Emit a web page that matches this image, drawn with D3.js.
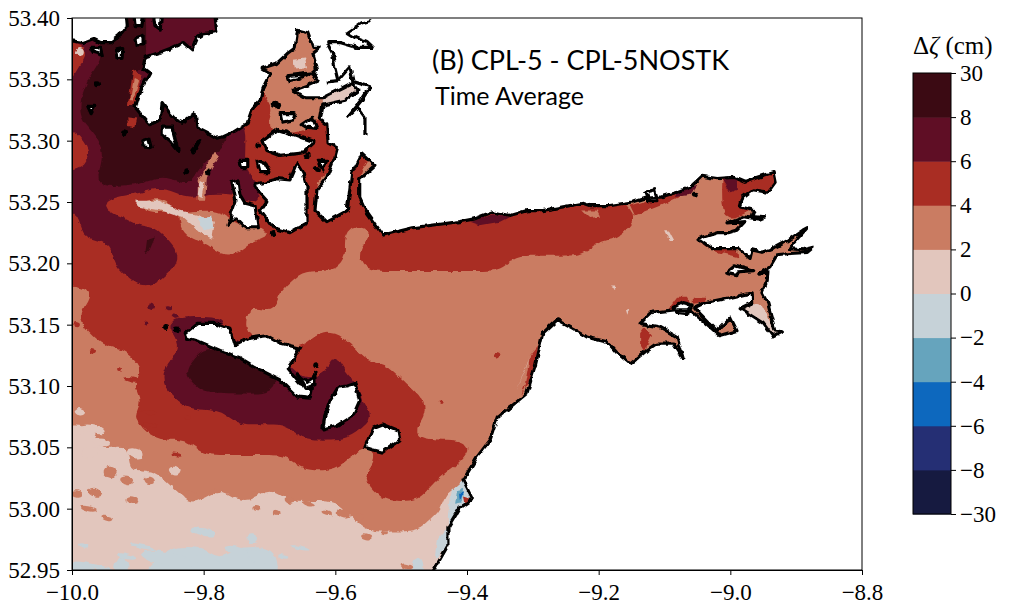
<!DOCTYPE html>
<html>
<head>
<meta charset="utf-8">
<script src="https://cdn.jsdelivr.net/npm/d3@7"></script>
<style>
  html, body { margin: 0; background: #fff; }
  text { font-family: "Liberation Serif", serif; fill: #000; }
  .axis path, .axis line { stroke: #000; stroke-width: 1px; }
  .axis text { font-size: 23px; font-family: "Liberation Serif", serif; }
</style>
</head>
<body>
<div id="container"></div>
<script>
/* DATA */
const lonTicks = [-10, -9.8, -9.6, -9.4, -9.2, -9.0, -8.8];
const latTicks = [52.95, 53.0, 53.05, 53.1, 53.15, 53.2, 53.25, 53.3, 53.35, 53.4];
const levelLabels = ["\u221230", "\u22128", "\u22126", "\u22124", "\u22122", "0", "2", "4", "6", "8", "30"];
const bandColors = ["#161a40", "#252f74", "#0d68be", "#66a4bd", "#c6d2d8", "#e2c6bd", "#ca7c62", "#a92d23", "#5f0e25", "#3b0a13"];
// lower edge of every band drawn from the grid
const bandEdges = [0, 2, 4, 6, 8];

// time averaged difference (cm), one row per 0.0125 deg of latitude from 53.40 down,
// one column per 0.025 deg of longitude from -10
const zetaRows = [
  [9,9,9,9,9,7,7, 7,7,7,7,5,3,3, 3,3,3,3,3,3,3, 3,3,3,3,3,3,3, 3,3,3,3,3,3,3, 3,3,3,3,3,3,3, 3,3,3,3,3,3,3],
  [9,9,9,9,9,7,7, 7,7,7,7,5,3,3, 3,3,3,3,3,3,3, 3,3,3,3,3,3,3, 3,3,3,3,3,3,3, 3,3,3,3,3,3,3, 3,3,3,3,3,3,3],
  [3,5,9,9,9,7,7, 7,7,7,7,5,3,3, 3,3,3,3,3,3,3, 3,3,3,3,3,3,3, 3,3,3,3,3,3,3, 3,3,3,3,3,3,3, 3,3,3,3,3,3,3],
  [5,7,9,9,9,7,7, 7,7,7,7,5,3,3, 3,3,3,3,3,3,3, 3,3,3,3,3,3,3, 3,3,3,3,3,3,3, 3,3,3,3,3,3,3, 3,3,3,3,3,3,3],
  [5,9,9,9,7,7,7, 7,7,7,5,5,3,3, 3,3,3,3,3,3,3, 3,3,3,3,3,3,3, 3,3,3,3,3,3,3, 3,3,3,3,3,3,3, 3,3,3,3,3,3,3],
  [7,9,9,9,7,9,9, 9,9,9,5,5,3,3, 3,3,3,3,3,3,3, 3,3,3,3,3,3,3, 3,3,3,3,3,3,3, 3,3,3,3,3,3,3, 3,3,3,3,3,3,3],
  [7,9,9,9,7,9,9, 9,9,9,5,5,5,3, 3,3,3,3,3,3,3, 3,3,3,3,3,3,3, 3,3,3,3,3,3,3, 3,3,3,3,3,3,3, 3,3,3,3,3,3,3],
  [7,9,9,9,9,9,9, 9,9,9,7,5,3,3, 3,5,5,3,3,3,3, 3,3,3,3,3,3,3, 3,3,3,3,3,3,3, 3,3,3,3,3,3,3, 3,3,3,3,3,3,3],
  [3,7,9,9,9,9,9, 9,9,9,7,5,5,5, 5,5,5,3,3,3,3, 3,3,3,3,3,3,3, 3,3,3,3,3,3,3, 3,3,3,3,3,3,3, 3,3,3,3,3,3,3],
  [3,5,9,9,9,9,9, 9,9,7,7,5,5,5, 5,5,5,5,5,3,3, 3,3,3,3,3,3,3, 3,3,3,3,3,3,3, 3,3,3,3,3,3,3, 3,3,3,3,3,3,3],
  [7,7,9,9,9,9,9, 9,7,7,7,5,5,5, 5,5,3,5,3,3,3, 3,3,3,3,3,3,3, 3,3,3,3,3,3,3, 3,3,3,3,3,5,5, 5,5,3,3,3,3,3],
  [7,7,9,9,9,7,7, 9,7,7,7,7,5,5, 5,3,3,5,3,3,3, 3,3,3,3,3,3,3, 3,3,3,3,3,3,3, 3,3,3,3,3,5,5, 5,5,3,3,3,3,3],
  [7,7,5,3,3,1,3, 5,5,5,5,7,5,5, 5,5,3,5,5,5,5, 5,5,5,5,5,5,5, 5,5,5,5,5,5,3, 3,3,3,3,3,5,5, 5,3,3,3,3,3,3],
  [5,7,7,7,5,5,5, 3,3,3,5,5,5,5, 5,5,5,5,5,5,5, 5,5,5,5,5,5,5, 5,5,5,5,5,5,5, 3,3,3,3,3,5,3, 3,3,3,3,3,3,3],
  [5,7,7,7,7,7,5, 3,3,3,3,3,3,5, 5,5,5,3,3,5,5, 5,5,5,5,5,5,5, 5,5,5,5,5,5,3, 3,3,3,3,3,3,3, 3,3,3,3,3,3,3],
  [5,5,5,7,7,7,7, 5,5,3,3,5,5,5, 5,5,5,3,5,5,5, 5,5,5,5,5,5,5, 5,5,5,5,3,3,3, 3,3,3,3,3,3,3, 3,3,3,3,3,3,3],
  [5,5,5,7,7,7,7, 5,5,5,5,5,5,5, 5,5,5,3,5,5,5, 5,5,5,5,5,5,3, 3,3,3,3,3,3,3, 3,3,3,3,3,3,3, 3,3,3,3,3,3,3],
  [5,5,5,5,7,7,5, 5,5,5,5,5,5,5, 3,3,3,3,3,3,3, 3,3,3,3,3,3,3, 3,3,3,3,3,3,3, 3,3,3,3,3,3,3, 3,3,3,3,3,3,3],
  [3,3,5,5,5,5,5, 5,5,5,5,5,5,3, 3,3,3,3,3,3,3, 3,3,3,3,3,3,3, 3,3,3,3,3,3,3, 3,3,3,3,3,3,3, 3,3,3,3,3,3,3],
  [3,5,5,5,5,5,5, 5,5,5,5,3,5,3, 3,3,3,3,3,3,3, 3,3,3,3,3,3,3, 3,3,3,3,3,3,3, 3,3,3,3,3,3,3, 3,3,3,3,3,3,3],
  [3,5,5,5,5,5,7, 7,7,7,5,3,3,3, 3,3,3,3,3,3,3, 3,3,3,3,3,3,3, 3,3,3,3,3,3,3, 3,3,3,3,3,3,3, 3,3,3,3,3,3,3],
  [3,3,5,5,5,5,5, 7,7,7,5,3,3,3, 3,5,5,3,3,3,3, 3,3,3,3,3,3,3, 3,3,3,3,3,3,3, 3,3,3,3,3,3,3, 3,3,3,3,3,3,3],
  [3,3,3,3,5,5,5, 7,9,9,9,9,5,5, 5,5,7,5,3,3,3, 3,3,3,3,3,3,3, 3,3,3,3,3,3,3, 3,3,3,3,3,3,3, 3,3,3,3,3,3,3],
  [3,3,3,3,3,5,7, 9,9,9,9,9,9,7, 5,5,7,5,5,5,3, 3,3,3,3,3,3,3, 3,3,3,3,3,3,3, 3,3,3,3,3,3,3, 3,3,3,3,3,3,3],
  [3,3,3,3,5,5,7, 7,9,9,9,9,9,7, 7,7,7,7,5,5,5, 3,3,3,3,3,3,3, 3,3,3,3,3,3,3, 3,3,3,3,3,3,3, 3,3,3,3,3,3,3],
  [3,3,3,3,3,5,5, 7,7,7,7,7,7,7, 7,7,7,7,5,5,5, 5,3,3,3,3,3,3, 3,3,3,3,3,3,3, 3,3,3,3,3,3,3, 3,3,3,3,3,3,3],
  [3,3,3,3,5,5,5, 5,5,5,7,7,7,7, 7,7,7,7,7,5,5, 5,3,3,3,3,3,3, 3,3,3,3,3,3,3, 3,3,3,3,3,3,3, 3,3,3,3,3,3,3],
  [1,1,3,3,3,5,5, 5,5,5,5,5,5,5, 7,7,7,7,5,5,5, 3,3,3,3,3,3,3, 3,3,3,3,3,3,3, 3,3,3,3,3,3,3, 3,3,3,3,3,3,3],
  [1,1,3,1,3,3,3, 3,5,5,5,5,5,5, 5,5,5,5,3,5,5, 5,5,5,5,3,3,3, 3,3,3,3,3,3,3, 3,3,3,3,3,3,3, 3,3,3,3,3,3,3],
  [1,1,1,1,3,3,3, 3,3,3,3,3,3,3, 5,5,5,3,3,5,5, 5,5,5,3,3,3,3, 3,3,3,3,3,3,3, 3,3,3,3,3,3,3, 3,3,3,3,3,3,3],
  [1,1,1,3,1,1,3, 3,3,3,3,3,3,3, 3,3,3,3,5,5,5, 5,5,3,3,3,3,3, 3,3,3,3,3,3,3, 3,3,3,3,3,3,3, 3,3,3,3,3,3,3],
  [1,3,1,1,1,1,1, 3,3,1,3,3,1,3, 3,3,3,3,3,5,5, 5,3,1,1,1,1,1, 1,1,1,1,1,1,1, 1,1,1,1,1,1,1, 1,1,1,1,1,1,1],
  [1,1,3,1,1,1,1, 1,1,1,1,1,1,1, 1,1,1,3,3,3,3, 3,3,1,1,1,1,1, 1,1,1,1,1,1,1, 1,1,1,1,1,1,1, 1,1,1,1,1,1,1],
  [1,1,1,1,1,1,1, 1,1,1,1,1,1,1, 1,1,1,1,3,3,3, 3,1,1,1,1,1,1, 1,1,1,1,1,1,1, 1,1,1,1,1,1,1, 1,1,1,1,1,1,1],
  [1,1,1,1,1,1,1, 1,1,1,1,1,1,1, 1,1,1,1,1,1,1, 1,1,1,1,1,1,1, 1,1,1,1,1,1,1, 1,1,1,1,1,1,1, 1,1,1,1,1,1,1],
  [1,1,1,-1,1,1,-1, -1,-1,1,-1,-1,-1,1, 1,1,1,1,1,1,1, -1,1,1,1,1,1,1, 1,1,1,1,1,1,1, 1,1,1,1,1,1,1, 1,1,1,1,1,1,1],
  [-1,-1,1,-1,1,-1,-1, -1,-1,-1,-1,-1,-1,1, 1,1,1,1,1,1,1, -1,1,1,1,1,1,1, 1,1,1,1,1,1,1, 1,1,1,1,1,1,1, 1,1,1,1,1,1,1]
];

// features too small for the grid: [value, [lon, lat], ...]
const smallPatches = [
  [-1, [-9.406,53.023],[-9.392,53.009],[-9.411,53.001],[-9.429,52.985],[-9.429,52.994],[-9.423,53.015]],
  [-3, [-9.415,53.015],[-9.406,53.016],[-9.408,53.005],[-9.418,53.004]],
  [-5, [-9.412,53.013],[-9.406,53.013],[-9.411,53.007]],
  [5, [-9.406,53.010],[-9.395,53.008],[-9.404,53.004]],
  [-1, [-9.429,52.985],[-9.429,52.970],[-9.449,52.959],[-9.446,52.974]],
  [5, [-9.292,53.133],[-9.300,53.109],[-9.318,53.092],[-9.312,53.101],[-9.304,53.125]],
  [1, [-9.307,53.123],[-9.316,53.109],[-9.324,53.096],[-9.318,53.105],[-9.309,53.119]],
  [5, [-9.049,53.219],[-9.026,53.212],[-8.990,53.211],[-8.988,53.205],[-9.019,53.209],[-9.038,53.214]],
  [5, [-9.095,53.162],[-9.081,53.172],[-9.066,53.172],[-9.061,53.167],[-9.087,53.164]],
  [5, [-9.057,53.172],[-9.038,53.172],[-9.038,53.168],[-9.057,53.167]],
  [5, [-9.137,53.143],[-9.130,53.148],[-9.119,53.141],[-9.130,53.129],[-9.137,53.135]],
  [1, [-8.985,53.163],[-8.966,53.168],[-8.952,53.166],[-8.932,53.145],[-8.921,53.144],[-8.935,53.140],[-8.950,53.151]],
  [5, [-9.152,53.247],[-9.061,53.262],[-9.054,53.260],[-9.107,53.247],[-9.145,53.239]],
  [7, [-9.081,53.258],[-9.061,53.262],[-9.050,53.264],[-9.061,53.256],[-9.084,53.254]],
  [7, [-9.395,53.234],[-9.361,53.240],[-9.335,53.238],[-9.350,53.234],[-9.380,53.231]],
  [7, [-9.011,53.268],[-8.993,53.270],[-8.990,53.260],[-9.000,53.258]],
  [1, [-9.099,53.227],[-9.095,53.227],[-9.087,53.219],[-9.092,53.219]],
  [1, [-9.183,53.182],[-9.175,53.182],[-9.175,53.179]],
  [1, [-9.160,53.162],[-9.155,53.163],[-9.158,53.158]],
  [3, [-9.225,53.243],[-9.203,53.243],[-9.198,53.238],[-9.213,53.237]],
  [5, [-9.907,53.358],[-9.894,53.353],[-9.901,53.329],[-9.915,53.329]],
  [3, [-9.906,53.351],[-9.898,53.349],[-9.907,53.333],[-9.912,53.333]],
  [5, [-9.916,53.319],[-9.901,53.318],[-9.904,53.311],[-9.915,53.312]],
  [3, [-9.783,53.291],[-9.777,53.288],[-9.795,53.270],[-9.798,53.251],[-9.809,53.251],[-9.809,53.268]],
  [1, [-9.806,53.268],[-9.799,53.266],[-9.803,53.254],[-9.809,53.256]],
  [1, [-9.906,53.251],[-9.869,53.251],[-9.836,53.243],[-9.806,53.239],[-9.783,53.234],[-9.787,53.220],[-9.806,53.225],[-9.831,53.237],[-9.866,53.243],[-9.897,53.246]],
  [-1, [-9.809,53.237],[-9.787,53.238],[-9.784,53.229],[-9.799,53.227]],
  [9, [-9.886,53.219],[-9.874,53.221],[-9.882,53.211],[-9.889,53.207]],
  [1, [-9.619,53.335],[-9.597,53.343],[-9.575,53.349],[-9.563,53.339],[-9.585,53.330],[-9.619,53.326]],
  [1, [-9.664,53.366],[-9.646,53.367],[-9.643,53.359],[-9.661,53.358]]
];

// mottled spots on the shelf: [value, lon, lat, half width in lon, half height in lat]
const spots = [
  [3,-9.942,53.030,.010,.005],[3,-9.917,53.023,.010,.003],[3,-9.882,53.023,.008,.003],[3,-9.909,53.007,.010,.003],
  [3,-9.965,53.013,.011,.004],[3,-9.975,53.000,.013,.002],[3,-9.947,52.992,.010,.002],[3,-9.993,53.012,.008,.003],
  [3,-9.818,53.010,.013,.004],[3,-9.783,53.014,.010,.002],[3,-9.722,53.012,.006,.002],[3,-9.669,53.007,.008,.003],
  [3,-9.641,53.004,.010,.002],[3,-9.689,52.997,.006,.002],[3,-9.720,53.000,.006,.002],[3,-9.613,52.997,.008,.002],
  [3,-9.553,52.977,.008,.002],[3,-9.525,52.980,.005,.0015],[3,-9.492,52.953,.009,.002],[3,-9.588,52.996,.010,.004],
  [3,-9.563,52.993,.005,.003],
  [1,-9.988,53.079,.008,.003],[1,-9.968,53.065,.018,.003],[1,-9.955,53.054,.013,.003],[1,-9.990,53.063,.008,.004],
  [1,-9.973,53.046,.013,.005],[1,-9.904,53.045,.013,.004],[1,-9.844,53.031,.009,.004],[1,-9.927,53.048,.005,.0015],
  [5,-9.909,53.105,.013,.002],[5,-9.884,53.079,.013,.0016],[5,-9.882,53.068,.011,.0016],[5,-9.823,53.074,.005,.002],
  [5,-9.841,53.044,.008,.0014],[5,-9.968,53.128,.006,.002],[5,-9.927,53.113,.003,.0016],[5,-9.354,53.125,.0046,.0025],
  [5,-9.440,53.087,.003,.0016],[5,-9.993,53.150,.005,.002],
  [7,-9.879,53.165,.005,.003],[7,-9.854,53.163,.005,.002],[7,-9.887,53.151,.003,.0016],[7,-9.844,53.157,.006,.002],
  [-1,-9.801,52.981,.020,.003],[-1,-9.727,52.976,.008,.004],[-1,-9.856,52.959,.040,.0055],[-1,-9.796,52.958,.020,.004],
  [-1,-9.750,52.966,.020,.003],[-1,-9.715,52.961,.020,.0055],[-1,-9.892,52.969,.020,.0016],[-1,-9.983,52.970,.008,.0016],
  [-1,-9.917,52.961,.015,.002],[-1,-9.968,52.953,.030,.002],[-1,-9.679,52.961,.008,.0016],[-1,-9.654,52.968,.015,.0014],
  [1,-9.988,53.372,.006,.0035]
];

// the shore from the top edge, east along the bay and back to the bottom edge
const mainCoast = [
  [-9.787,53.420],[-9.780,53.389],[-9.801,53.387],[-9.810,53.384],[-9.818,53.374],[-9.831,53.380],[-9.847,53.376],[-9.866,53.372],
  [-9.889,53.368],[-9.892,53.359],[-9.882,53.355],[-9.889,53.348],[-9.897,53.339],[-9.904,53.327],[-9.892,53.319],[-9.882,53.313],
  [-9.866,53.317],[-9.863,53.331],[-9.851,53.322],[-9.844,53.318],[-9.831,53.315],[-9.821,53.319],[-9.813,53.322],[-9.810,53.311],
  [-9.795,53.307],[-9.780,53.302],[-9.771,53.303],[-9.755,53.307],[-9.734,53.314],[-9.727,53.325],[-9.714,53.333],[-9.710,53.343],
  [-9.699,53.355],[-9.711,53.359],[-9.689,53.363],[-9.673,53.371],[-9.661,53.376],[-9.657,53.390],[-9.642,53.388],[-9.634,53.376],
  [-9.623,53.376],[-9.634,53.371],[-9.628,53.360],[-9.635,53.356],[-9.626,53.349],[-9.643,53.345],[-9.664,53.341],[-9.646,53.335],
  [-9.619,53.335],[-9.597,53.341],[-9.575,53.347],[-9.566,53.341],[-9.585,53.333],[-9.619,53.329],[-9.623,53.317],[-9.613,53.313],
  [-9.611,53.298],[-9.597,53.294],[-9.601,53.286],[-9.613,53.270],[-9.628,53.260],[-9.631,53.243],[-9.613,53.234],[-9.582,53.243],
  [-9.575,53.274],[-9.560,53.290],[-9.540,53.280],[-9.563,53.269],[-9.563,53.254],[-9.552,53.241],[-9.528,53.223],[-9.482,53.229],
  [-9.411,53.234],[-9.391,53.236],[-9.361,53.242],[-9.335,53.239],[-9.309,53.243],[-9.285,53.243],[-9.254,53.246],[-9.224,53.249],
  [-9.213,53.247],[-9.183,53.247],[-9.148,53.250],[-9.130,53.253],[-9.107,53.254],[-9.081,53.258],[-9.061,53.262],[-9.043,53.271],
  [-9.020,53.269],[-8.996,53.270],[-8.978,53.266],[-8.959,53.270],[-8.935,53.274],[-8.932,53.266],[-8.943,53.258],[-8.966,53.260],
  [-8.981,53.254],[-8.985,53.246],[-8.963,53.243],[-8.966,53.239],[-8.947,53.238],[-8.955,53.236],[-8.981,53.238],[-9.005,53.233],
  [-8.978,53.234],[-8.990,53.227],[-9.003,53.225],[-9.020,53.225],[-9.049,53.220],[-9.028,53.212],[-8.988,53.212],[-8.970,53.204],
  [-8.967,53.211],[-8.952,53.209],[-8.932,53.213],[-8.912,53.219],[-8.890,53.227],[-8.883,53.229],[-8.905,53.216],[-8.909,53.212],
  [-8.890,53.211],[-8.874,53.213],[-8.883,53.209],[-8.909,53.208],[-8.929,53.207],[-8.940,53.197],[-8.955,53.192],[-8.943,53.193],
  [-8.944,53.186],[-8.952,53.176],[-8.943,53.167],[-8.932,53.145],[-8.921,53.144],[-8.935,53.140],[-8.950,53.151],[-8.985,53.163],
  [-8.966,53.168],[-8.967,53.176],[-9.000,53.172],[-9.038,53.168],[-9.054,53.164],[-9.046,53.159],[-9.020,53.145],[-9.000,53.156],
  [-8.990,53.145],[-9.016,53.141],[-9.035,53.150],[-9.061,53.162],[-9.087,53.162],[-9.119,53.160],[-9.137,53.151],[-9.107,53.148],
  [-9.081,53.140],[-9.072,53.123],[-9.087,53.135],[-9.111,53.135],[-9.127,53.129],[-9.152,53.118],[-9.172,53.127],[-9.187,53.136],
  [-9.218,53.140],[-9.239,53.147],[-9.263,53.154],[-9.285,53.143],[-9.297,53.115],[-9.309,53.094],[-9.354,53.074],[-9.365,53.056],
  [-9.385,53.042],[-9.406,53.023],[-9.392,53.008],[-9.411,53.001],[-9.429,52.985],[-9.429,52.970],[-9.461,52.940]
];
const mainCorners = [[-8.75,52.94],[-8.75,53.42]];

const cornerCoast = [[-9.919,53.410],[-9.916,53.393],[-9.923,53.388],[-9.942,53.380],[-9.957,53.380],[-9.968,53.383],[-9.983,53.380],[-10.01,53.382]];
const cornerCorners = [[-10.01,53.41]];

const islands = [
  [[-9.828,53.143],[-9.810,53.151],[-9.780,53.151],[-9.760,53.147],[-9.752,53.133],[-9.730,53.139],[-9.704,53.141],[-9.684,53.135],[-9.654,53.131],[-9.664,53.121],[-9.673,53.114],[-9.654,53.102],[-9.635,53.098],[-9.638,53.090],[-9.657,53.091],[-9.684,53.105],[-9.714,53.113],[-9.745,53.123],[-9.775,53.129],[-9.806,53.136],[-9.825,53.139]],
  [[-9.616,53.076],[-9.608,53.088],[-9.596,53.099],[-9.582,53.100],[-9.570,53.102],[-9.563,53.088],[-9.573,53.076],[-9.597,53.068],[-9.619,53.065]],
  [[-9.555,53.050],[-9.543,53.066],[-9.528,53.069],[-9.505,53.064],[-9.502,53.056],[-9.528,53.046],[-9.543,53.048]],
  [[-9.658,53.109],[-9.643,53.103],[-9.634,53.106],[-9.631,53.111],[-9.631,53.101],[-9.646,53.098]],
  [[-9.710,53.300],[-9.687,53.309],[-9.664,53.305],[-9.631,53.299],[-9.649,53.290],[-9.684,53.288],[-9.704,53.292]],
  [[-9.722,53.264],[-9.689,53.269],[-9.669,53.268],[-9.658,53.282],[-9.649,53.274],[-9.643,53.262],[-9.643,53.233],[-9.669,53.225],[-9.695,53.229],[-9.714,53.243],[-9.704,53.251],[-9.719,53.260]],
  [[-9.684,53.322],[-9.661,53.322],[-9.664,53.317],[-9.681,53.315]],
  [[-9.652,53.313],[-9.635,53.319],[-9.628,53.310],[-9.646,53.311]],
  [[-9.672,53.353],[-9.638,53.355],[-9.654,53.351],[-9.669,53.349]],
  [[-9.745,53.284],[-9.733,53.284],[-9.733,53.278],[-9.742,53.278]],
  [[-9.719,53.284],[-9.707,53.282],[-9.699,53.274],[-9.714,53.274]],
  [[-9.626,53.284],[-9.613,53.284],[-9.619,53.276]],
  [[-9.976,53.328],[-9.965,53.328],[-9.971,53.322]],
  [[-9.894,53.300],[-9.882,53.302],[-9.878,53.294],[-9.892,53.295]],
  [[-9.863,53.311],[-9.848,53.311],[-9.839,53.292],[-9.851,53.300],[-9.863,53.305]],
  [[-9.818,53.292],[-9.806,53.300],[-9.810,53.296],[-9.816,53.290]],
  [[-9.903,53.384],[-9.892,53.386],[-9.892,53.378],[-9.901,53.378]],
  [[-9.932,53.374],[-9.923,53.375],[-9.924,53.367],[-9.930,53.367]],
  [[-9.971,53.376],[-9.957,53.376],[-9.954,53.370],[-9.968,53.372]],
  [[-9.907,53.410],[-9.889,53.410],[-9.894,53.393],[-9.904,53.393]],
  [[-9.878,53.410],[-9.863,53.410],[-9.866,53.390],[-9.874,53.393]],
  [[-9.757,53.266],[-9.748,53.268],[-9.745,53.256],[-9.737,53.249],[-9.722,53.247],[-9.717,53.229],[-9.737,53.229],[-9.752,53.237],[-9.763,53.231],[-9.757,53.242],[-9.751,53.251]],
  [[-9.130,53.258],[-9.115,53.260],[-9.110,53.251],[-9.125,53.251]],
  [[-9.007,53.192],[-8.993,53.198],[-8.966,53.194],[-8.990,53.193],[-8.990,53.190]],
  [[-9.087,53.164],[-9.073,53.168],[-9.058,53.166],[-9.066,53.159],[-9.081,53.160]]
];

const islets = [
  [-9.962,53.346],[-9.921,53.306],[-9.825,53.275],[-9.793,53.274],[-9.695,53.224],[-9.692,53.330],[-9.687,53.328],
  [-9.717,53.296],[-9.642,53.288],[-9.628,53.277],[-9.629,53.117],[-9.857,53.148],[-9.841,53.146],[-9.054,53.256]
];

// inlets that run through the white land
const inletLines = [
  [[-9.547,53.398],[-9.560,53.396],[-9.582,53.388],[-9.570,53.384],[-9.552,53.380],[-9.544,53.376],[-9.567,53.376],[-9.593,53.380],[-9.613,53.380],[-9.604,53.371],[-9.601,53.360],[-9.596,53.349],[-9.613,53.348]],
  [[-9.596,53.349],[-9.578,53.360],[-9.573,53.348],[-9.547,53.344],[-9.560,53.333],[-9.581,53.319],[-9.566,53.327],[-9.555,53.319],[-9.555,53.305]]
];

/* CONSTANTS */
const width = 1011,
  height = 611,
  margin = { top: 18, bottom: 41, left: 72, right: 149 },
  colorbar = { left: 913, right: 951, top: 73, bottom: 514 };

const lon0 = -10, lonStep = 0.025, lat0 = 53.4, latStep = 0.0125;
const fine = 4, pad = 1; // the grid is resampled before contouring so the bands come out rounded

const xScale = d3.scaleLinear().domain([-10, -8.8]).range([margin.left, width - margin.right]);
const yScale = d3.scaleLinear().domain([52.95, 53.4]).range([height - margin.bottom, margin.top]);
const colorScale = d3.scaleThreshold().domain([-8, -6, -4, -2, 0, 2, 4, 6, 8]).range(bandColors);
const line = d3.line().x(d => xScale(d[0])).y(d => yScale(d[1]));

const svg = d3.select("#container").append("svg")
  .attr("width", width)
  .attr("height", height)
  .style("display", "block");

const plotWidth = xScale.range()[1] - margin.left;
const plotHeight = yScale.range()[0] - margin.top;

svg.append("clipPath").attr("id", "plot-clip").append("rect")
  .attr("x", margin.left).attr("y", margin.top)
  .attr("width", plotWidth)
  .attr("height", plotHeight);

// rough edge on shores and bands, as the model mesh gives in the original
const rough = svg.append("filter")
  .attr("id", "rough")
  .attr("filterUnits", "userSpaceOnUse")
  .attr("x", 0).attr("y", 0).attr("width", width).attr("height", height)
  .attr("color-interpolation-filters", "sRGB");
rough.append("feTurbulence")
  .attr("type", "fractalNoise").attr("baseFrequency", 0.13).attr("numOctaves", 2).attr("seed", 4).attr("result", "noise");
rough.append("feDisplacementMap")
  .attr("in", "SourceGraphic").attr("in2", "noise").attr("scale", 5)
  .attr("xChannelSelector", "R").attr("yChannelSelector", "G");

const plot = svg.append("g").attr("clip-path", "url(#plot-clip)")
  .append("g").attr("filter", "url(#rough)");

/* FILLED CONTOURS */
const nRows = zetaRows.length, nCols = zetaRows[0].length;

function resample() {
  const w = (nCols - 1 + 2 * pad) * fine + 1,
    h = (nRows - 1 + 2 * pad) * fine + 1,
    out = new Float64Array(w * h);
  for (let fy = 0; fy < h; fy++) {
    const gy = Math.max(0, Math.min(nRows - 1, fy / fine - pad)),
      y0 = Math.floor(gy), y1 = Math.min(nRows - 1, y0 + 1), ty = gy - y0;
    for (let fx = 0; fx < w; fx++) {
      const gx = Math.max(0, Math.min(nCols - 1, fx / fine - pad)),
        x0 = Math.floor(gx), x1 = Math.min(nCols - 1, x0 + 1), tx = gx - x0;
      out[fy * w + fx] =
        (zetaRows[y0][x0] * (1 - tx) + zetaRows[y0][x1] * tx) * (1 - ty) +
        (zetaRows[y1][x0] * (1 - tx) + zetaRows[y1][x1] * tx) * ty;
    }
  }
  d3.blur2({ data: out, width: w, height: h }, 1.5);
  return { data: out, w, h };
}
const field = resample();

// grid units to map, d3.contours puts sample i at i + 0.5
const toMap = d3.geoTransform({
  point(gx, gy) {
    this.stream.point(
      xScale(lon0 + ((gx - 0.5) / fine - pad) * lonStep),
      yScale(lat0 - ((gy - 0.5) / fine - pad) * latStep)
    );
  }
});
const contourPath = d3.geoPath(toMap);

plot.append("rect")
  .attr("x", margin.left - 20).attr("y", margin.top - 20)
  .attr("width", plotWidth + 40)
  .attr("height", plotHeight + 40)
  .attr("fill", colorScale(-1));

const contours = d3.contours().size([field.w, field.h]).thresholds(bandEdges)(Array.from(field.data));

plot.selectAll("path.band")
  .data(contours)
  .join("path")
  .attr("class", "band")
  .attr("d", contourPath)
  .attr("fill", d => colorScale(d.value + 1));

plot.selectAll("ellipse.spot")
  .data(spots)
  .join("ellipse")
  .attr("class", "spot")
  .attr("cx", d => xScale(d[1]))
  .attr("cy", d => yScale(d[2]))
  .attr("rx", d => xScale(d[1] + d[3]) - xScale(d[1]))
  .attr("ry", d => yScale(d[2] - d[4]) - yScale(d[2]))
  .attr("transform", d => `rotate(12 ${xScale(d[1])} ${yScale(d[2])})`)
  .attr("fill", d => colorScale(d[0]));

plot.selectAll("path.patch")
  .data(smallPatches)
  .join("path")
  .attr("class", "patch")
  .attr("d", d => line(d.slice(1)) + "Z")
  .attr("fill", d => colorScale(d[0]));

/* LAND */
plot.append("path").attr("d", line(mainCoast.concat(mainCorners)) + "Z").attr("fill", "#fff");
plot.append("path").attr("d", line(cornerCoast.concat(cornerCorners)) + "Z").attr("fill", "#fff");

const coastStyle = sel => sel
  .attr("stroke", "#000")
  .attr("stroke-width", 3.2)
  .attr("stroke-linejoin", "round");

plot.selectAll("path.island")
  .data(islands)
  .join("path")
  .attr("class", "island")
  .attr("d", d => line(d) + "Z")
  .attr("fill", "#fff")
  .call(coastStyle);

plot.selectAll("path.coast")
  .data([mainCoast, cornerCoast].concat(inletLines))
  .join("path")
  .attr("class", "coast")
  .attr("d", line)
  .attr("fill", "none")
  .call(coastStyle);

plot.selectAll("circle.islet")
  .data(islets)
  .join("circle")
  .attr("class", "islet")
  .attr("cx", d => xScale(d[0]))
  .attr("cy", d => yScale(d[1]))
  .attr("r", 3)
  .attr("fill", "#000");

/* AXES */
const bottom = yScale.range()[0];
svg.append("rect")
  .attr("x", margin.left).attr("y", margin.top)
  .attr("width", plotWidth)
  .attr("height", plotHeight)
  .attr("fill", "none").attr("stroke", "#000");

svg.append("g").attr("class", "axis")
  .attr("transform", `translate(0,${bottom})`)
  .call(d3.axisBottom(xScale).tickValues(lonTicks).tickFormat(d3.format(".1f")).tickSize(5).tickPadding(9));

svg.append("g").attr("class", "axis")
  .attr("transform", `translate(${margin.left},0)`)
  .call(d3.axisLeft(yScale).tickValues(latTicks).tickFormat(d3.format(".2f")).tickSize(5).tickPadding(7));

/* TITLE */
svg.append("text").attr("x", 432).attr("y", 70)
  .style("font-family", "Lato").style("font-size", "27px")
  .text("(B) CPL-5 - CPL-5NOSTK");
svg.append("text").attr("x", 435).attr("y", 105)
  .style("font-family", "Lato").style("font-size", "25px")
  .text("Time Average");

/* COLORBAR */
const barScale = d3.scalePoint().domain(levelLabels).range([colorbar.bottom, colorbar.top]);
const barStep = barScale.step();

svg.selectAll("rect.swatch")
  .data(bandColors)
  .join("rect")
  .attr("class", "swatch")
  .attr("x", colorbar.left)
  .attr("y", (d, i) => barScale(levelLabels[i + 1]))
  .attr("width", colorbar.right - colorbar.left)
  .attr("height", barStep + 0.5)
  .attr("fill", d => d);

svg.append("rect")
  .attr("x", colorbar.left).attr("y", colorbar.top)
  .attr("width", colorbar.right - colorbar.left)
  .attr("height", colorbar.bottom - colorbar.top)
  .attr("fill", "none").attr("stroke", "#000");

svg.append("g").attr("class", "axis")
  .attr("transform", `translate(${colorbar.right},0)`)
  .call(d3.axisRight(barScale).tickSize(5).tickPadding(4))
  .call(g => g.select(".domain").remove());

const barTitle = svg.append("text").attr("x", 913).attr("y", 54).style("font-size", "25px");
barTitle.append("tspan").text("\u0394");
barTitle.append("tspan").style("font-style", "italic").text("\u03b6");
barTitle.append("tspan").text(" (cm)");
</script>
</body>
</html>
